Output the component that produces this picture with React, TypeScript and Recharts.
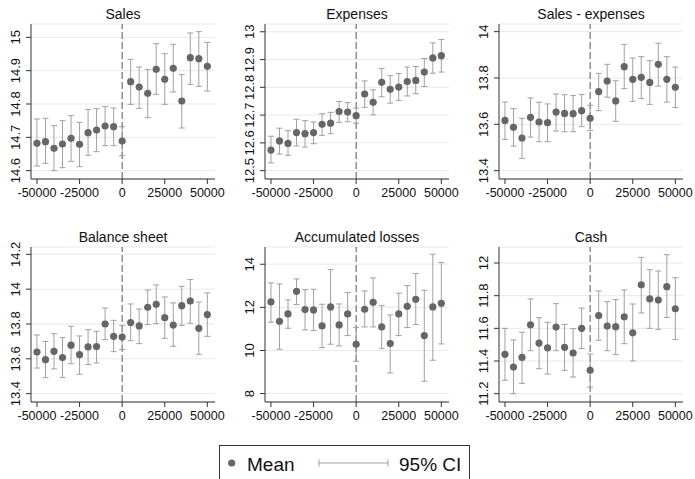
import { CartesianGrid, ErrorBar, ReferenceLine, Scatter, ScatterChart, XAxis, YAxis } from 'recharts'

const FONT = '"Liberation Sans", Arial, Helvetica, sans-serif'
const INK = '#111'
const DOT = '#666'
const CI = '#a0a0a0'

// bins of the running variable, 5000 wide
const BINS = [
  -50000, -45000, -40000, -35000, -30000, -25000, -20000, -15000, -10000, -5000, 0,
  5000, 10000, 15000, 20000, 25000, 30000, 35000, 40000, 45000, 50000,
]
const X_TICKS = [-50000, -25000, 0, 25000, 50000]

const SALES_MEAN = [14.682, 14.687, 14.667, 14.68, 14.697, 14.679, 14.714, 14.722, 14.734, 14.732, 14.689, 14.867, 14.851, 14.832, 14.904, 14.874, 14.907, 14.809, 14.939, 14.936, 14.913]
const SALES_LO = [14.614, 14.622, 14.6, 14.609, 14.628, 14.612, 14.646, 14.657, 14.675, 14.675, 14.645, 14.799, 14.787, 14.759, 14.829, 14.799, 14.836, 14.728, 14.859, 14.853, 14.839]
const SALES_HI = [14.755, 14.757, 14.735, 14.75, 14.765, 14.745, 14.784, 14.786, 14.792, 14.788, 14.732, 14.934, 14.911, 14.904, 14.981, 14.951, 14.979, 14.888, 15.013, 15.017, 14.985]

const EXP_MEAN = [12.574, 12.607, 12.598, 12.637, 12.633, 12.637, 12.667, 12.671, 12.713, 12.711, 12.698, 12.776, 12.746, 12.818, 12.793, 12.801, 12.821, 12.825, 12.855, 12.906, 12.914]
const EXP_LO = [12.528, 12.56, 12.555, 12.589, 12.585, 12.597, 12.627, 12.633, 12.674, 12.676, 12.671, 12.728, 12.701, 12.766, 12.743, 12.753, 12.769, 12.777, 12.803, 12.851, 12.855]
const EXP_HI = [12.624, 12.653, 12.644, 12.685, 12.68, 12.675, 12.705, 12.71, 12.749, 12.745, 12.725, 12.823, 12.791, 12.868, 12.842, 12.85, 12.873, 12.875, 12.904, 12.96, 12.972]

const NET_MEAN = [13.617, 13.587, 13.541, 13.63, 13.61, 13.607, 13.653, 13.647, 13.646, 13.659, 13.626, 13.741, 13.787, 13.701, 13.849, 13.794, 13.803, 13.781, 13.859, 13.794, 13.76]
const NET_LO = [13.535, 13.506, 13.453, 13.545, 13.525, 13.525, 13.571, 13.568, 13.568, 13.59, 13.573, 13.659, 13.717, 13.613, 13.754, 13.699, 13.711, 13.686, 13.765, 13.696, 13.673]
const NET_HI = [13.696, 13.668, 13.626, 13.714, 13.695, 13.688, 13.731, 13.728, 13.724, 13.729, 13.682, 13.82, 13.859, 13.788, 13.945, 13.886, 13.892, 13.875, 13.95, 13.892, 13.847]

const BAL_MEAN = [13.639, 13.595, 13.643, 13.607, 13.678, 13.624, 13.668, 13.67, 13.8, 13.729, 13.725, 13.808, 13.789, 13.896, 13.913, 13.836, 13.794, 13.905, 13.932, 13.775, 13.854]
const BAL_LO = [13.547, 13.492, 13.542, 13.492, 13.572, 13.511, 13.567, 13.576, 13.71, 13.641, 13.653, 13.704, 13.687, 13.796, 13.802, 13.718, 13.672, 13.792, 13.804, 13.626, 13.729]
const BAL_HI = [13.737, 13.7, 13.744, 13.722, 13.787, 13.731, 13.767, 13.758, 13.892, 13.821, 13.792, 13.915, 13.886, 13.995, 14.024, 13.955, 13.921, 14.016, 14.055, 13.926, 13.978]

const LOSS_MEAN = [12.253, 11.356, 11.696, 12.748, 11.897, 11.882, 11.139, 12.021, 11.186, 11.696, 10.289, 11.912, 12.237, 11.093, 10.32, 11.696, 12.052, 12.376, 10.691, 12.021, 12.191]
const LOSS_LO = [11.309, 10.057, 11.031, 12.129, 10.954, 10.923, 10.134, 10.289, 10.212, 10.691, 9.5, 11.093, 11.093, 10.103, 8.959, 10.691, 11.062, 11.201, 8.573, 9.547, 10.304]
const LOSS_HI = [13.134, 13.088, 12.345, 13.32, 12.825, 12.84, 12.144, 13.753, 12.16, 12.686, 11.062, 12.763, 13.366, 12.083, 11.65, 12.655, 13.01, 13.567, 12.794, 14.464, 14.077]

const CASH_MEAN = [11.441, 11.363, 11.422, 11.622, 11.51, 11.48, 11.608, 11.484, 11.449, 11.6, 11.343, 11.678, 11.614, 11.61, 11.671, 11.573, 11.867, 11.78, 11.773, 11.855, 11.72]
const CASH_LO = [11.282, 11.2, 11.263, 11.463, 11.353, 11.32, 11.463, 11.343, 11.302, 11.476, 11.239, 11.527, 11.463, 11.439, 11.506, 11.4, 11.694, 11.6, 11.594, 11.667, 11.531]
const CASH_HI = [11.6, 11.529, 11.576, 11.78, 11.665, 11.637, 11.751, 11.624, 11.598, 11.724, 11.443, 11.829, 11.763, 11.776, 11.835, 11.749, 12.035, 11.959, 11.951, 12.051, 11.91]

const TITLES = ['Sales', 'Expenses', 'Sales - expenses', 'Balance sheet', 'Accumulated losses', 'Cash']
const Y_TICKS = [
  [14.6, 14.7, 14.8, 14.9, 15],
  [12.5, 12.6, 12.7, 12.8, 12.9, 13],
  [13.4, 13.6, 13.8, 14],
  [13.4, 13.6, 13.8, 14, 14.2],
  [8, 10, 12, 14],
  [11.2, 11.4, 11.6, 11.8, 12],
]
const Y_DOMAINS: [number, number][] = [
  [14.575, 15.04],
  [12.47, 13.028],
  [13.364, 14.033],
  [13.352, 14.242],
  [7.61, 14.8],
  [11.149, 12.098],
]
const SERIES = [
  [SALES_MEAN, SALES_LO, SALES_HI],
  [EXP_MEAN, EXP_LO, EXP_HI],
  [NET_MEAN, NET_LO, NET_HI],
  [BAL_MEAN, BAL_LO, BAL_HI],
  [LOSS_MEAN, LOSS_LO, LOSS_HI],
  [CASH_MEAN, CASH_LO, CASH_HI],
]

// panel placement on the page (top-left corner of each chart box)
const COL_LEFT = [0, 234, 468]
const ROW_TOP = [0, 222.7]
const AXIS_W = 31
const TITLE_H = 24
const PLOT_W = 184
const RIGHT_PAD = 24
const CHART_W = AXIS_W + PLOT_W + RIGHT_PAD
const CHART_H = 209

type Row = { x: number; y: number; err: [number, number] }

function rowsFor(mean: number[], lo: number[], hi: number[]): Row[] {
  return BINS.map((x, i) => ({ x, y: mean[i], err: [mean[i] - lo[i], hi[i] - mean[i]] }))
}

// rotated y labels, read bottom to top
function YTick(props: { x?: number; y?: number; payload?: { value: number } }) {
  const { x = 0, y = 0, payload } = props
  if (!payload) return null
  const bx = x - 4
  return (
    <text
      x={bx}
      y={y}
      transform={`rotate(-90 ${bx} ${y})`}
      textAnchor="middle"
      fontSize={13}
      fontFamily={FONT}
      fill={INK}
    >
      {payload.value}
    </text>
  )
}

function Dot(props: { cx?: number; cy?: number }) {
  return <circle cx={props.cx} cy={props.cy} r={3.6} fill={DOT} />
}

function Panel({ idx }: { idx: number }) {
  const [mean, lo, hi] = SERIES[idx]
  const rows = rowsFor(mean, lo, hi)
  const left = COL_LEFT[idx % 3]
  const top = ROW_TOP[Math.floor(idx / 3)]
  return (
    <div style={{ position: 'absolute', left, top, width: CHART_W, height: CHART_H }}>
      <div
        style={{
          position: 'absolute',
          left: AXIS_W,
          width: PLOT_W,
          top: 5,
          textAlign: 'center',
          fontFamily: FONT,
          fontSize: 14,
          lineHeight: '18px',
          color: INK,
        }}
      >
        {TITLES[idx]}
      </div>
      <ScatterChart width={CHART_W} height={CHART_H} margin={{ top: TITLE_H, right: RIGHT_PAD, bottom: 0, left: 0 }}>
        <CartesianGrid vertical={false} stroke="#e9e9e9" />
        <XAxis
          type="number"
          dataKey="x"
          domain={[-53500, 54500]}
          allowDataOverflow
          ticks={X_TICKS}
          interval={0}
          height={30}
          tickSize={5}
          tickMargin={4}
          stroke="#333"
          tick={{ fontSize: 12.5, fontFamily: FONT, fill: INK }}
          tickFormatter={(v: number) => String(v)}
        />
        <YAxis
          type="number"
          dataKey="y"
          domain={Y_DOMAINS[idx]}
          allowDataOverflow
          ticks={Y_TICKS[idx]}
          interval={0}
          width={AXIS_W}
          tickSize={5}
          tickMargin={2}
          stroke="#333"
          tick={<YTick />}
        />
        <ReferenceLine x={0} stroke="#555" strokeDasharray="7 3" />
        <Scatter data={rows} shape={<Dot />} isAnimationActive={false}>
          <ErrorBar dataKey="err" direction="y" width={3} stroke={CI} strokeWidth={1} isAnimationActive={false} />
        </Scatter>
      </ScatterChart>
    </div>
  )
}

function Legend() {
  return (
    <svg width={252} height={36} style={{ position: 'absolute', left: 219, top: 445 }}>
      <rect x={0.5} y={0.5} width={250} height={45} fill="#fff" stroke="#333" />
      <circle cx={12.7} cy={18} r={3.6} fill={DOT} />
      <text x={28} y={26} fontSize={19} fontFamily={FONT} fill={INK}>Mean</text>
      <g stroke={CI} strokeWidth={1}>
        <line x1={100} y1={18} x2={169} y2={18} />
        <line x1={100} y1={14.5} x2={100} y2={21.5} />
        <line x1={169} y1={14.5} x2={169} y2={21.5} />
      </g>
      <text x={180} y={26} fontSize={19} fontFamily={FONT} fill={INK}>95% CI</text>
    </svg>
  )
}

export default function App() {
  return (
    <div
      style={{
        position: 'absolute',
        left: 0,
        top: 0,
        width: 695,
        height: 479,
        background: '#fff',
        overflow: 'hidden',
      }}
    >
      {TITLES.map((_, i) => (
        <Panel key={i} idx={i} />
      ))}
      <Legend />
    </div>
  )
}
